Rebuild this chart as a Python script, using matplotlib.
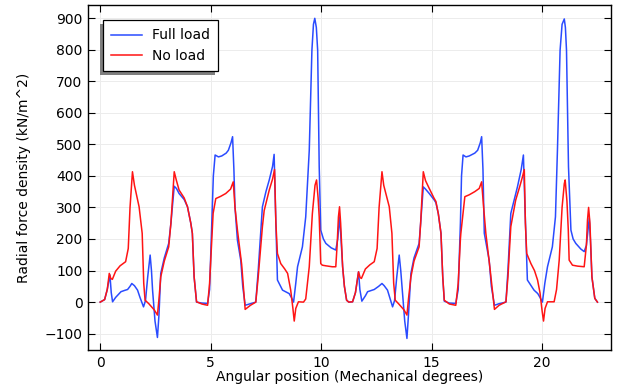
import matplotlib
matplotlib.use("Agg")
import matplotlib.pyplot as plt
from matplotlib.patches import Rectangle

# ---- Data ----
no_load_x = [0, 0.2, 0.32, 0.41, 0.48, 0.55, 0.7, 0.9, 1.15, 1.27, 1.35, 1.46, 1.55, 1.76, 1.9, 1.97, 2.03,
             2.2, 2.45, 2.59, 2.66, 2.74, 2.9, 3.1, 3.2, 3.35, 3.45, 3.57, 3.8, 3.95, 4.1, 4.17, 4.25, 4.36,
             4.6, 4.86, 4.95, 5.05, 5.11, 5.23, 5.45, 5.68, 5.9, 6.02, 6.1, 6.21, 6.4, 6.56, 6.8, 7.04, 7.15,
             7.34, 7.42, 7.65, 7.8, 7.89, 7.95, 8.02, 8.17, 8.35, 8.48, 8.62, 8.72, 8.78, 8.85, 8.97, 9.2, 9.3,
             9.46, 9.6, 9.72, 9.79, 9.86, 9.91, 9.98, 10.05, 10.21, 10.5, 10.66, 10.72, 10.78, 10.83, 10.88,
             10.97, 11.05, 11.15, 11.25, 11.42, 11.55, 11.69, 11.76, 11.82, 12.0, 12.2, 12.4, 12.53, 12.62,
             12.75, 12.83, 13.08, 13.2, 13.28, 13.35, 13.5, 13.75, 13.88, 13.95, 14.06, 14.2, 14.43, 14.5,
             14.62, 14.72, 14.89, 15.1, 15.19, 15.3, 15.42, 15.5, 15.57, 15.8, 16.09, 16.2, 16.3, 16.32, 16.5,
             16.7, 16.95, 17.15, 17.26, 17.35, 17.45, 17.63, 17.84, 18.05, 18.36, 18.45, 18.58, 18.8, 19.0,
             19.1, 19.19, 19.24, 19.3, 19.49, 19.65, 19.79, 19.9, 20.0, 20.06, 20.13, 20.24, 20.54, 20.65,
             20.77, 20.9, 21.0, 21.04, 21.12, 21.18, 21.22, 21.37, 21.6, 21.9, 22.0, 22.05, 22.1, 22.16,
             22.25, 22.38, 22.5]
no_load_y = [0, 8, 40, 91, 75, 72, 98, 115, 128, 170, 300, 413, 370, 302, 218, 60, 6,
             -5, -25, -41, 10, 80, 130, 175, 250, 413, 385, 355, 330, 302, 250, 218, 80, 1,
             -6, -10, 60, 200, 281, 328, 335, 344, 358, 381, 300, 228, 120, -23, -10, 0, 80,
             239, 290, 355, 390, 420, 250, 154, 122, 105, 91, 38, -20, -60, -20, 1, 0, 10,
             112, 280, 370, 387, 330, 270, 122, 117, 115, 112, 112, 180, 270, 302, 250,
             112, 50, 6, 0, 1, 30, 96, 78, 75, 105, 118, 128, 170, 300,
             413, 370, 302, 218, 60, 6, -5, -25, -41, 10, 80, 130, 175, 250,
             413, 385, 360, 330, 319, 280, 218, 80, 6, -6, -10, 60, 200, 218, 334,
             340, 350, 360, 381, 300, 218, 112, -23, -10, 1, 80, 239, 323, 370,
             395, 420, 250, 154, 122, 100, 70, 30, -30, -60, -20, 1, 1, 40,
             133, 300, 375, 387, 320, 230, 133, 117, 114, 112, 180, 260, 300, 250,
             80, 12, 0]

full_load_x = [0, 0.2, 0.32, 0.44, 0.5, 0.56, 0.7, 0.94, 1.1, 1.24, 1.35, 1.43, 1.55, 1.69, 1.8, 1.96,
               2.05, 2.15, 2.26, 2.32, 2.37, 2.48, 2.59, 2.66, 2.74, 2.9, 3.1, 3.2, 3.35, 3.45, 3.57, 3.8,
               3.95, 4.1, 4.17, 4.25, 4.36, 4.6, 4.86, 4.95, 5.05, 5.12, 5.2, 5.35, 5.5, 5.7, 5.8, 5.92,
               5.99, 6.05, 6.1, 6.21, 6.36, 6.45, 6.56, 6.8, 7.04, 7.15, 7.34, 7.5, 7.65, 7.8, 7.87, 7.93,
               8.02, 8.25, 8.55, 8.65, 8.75, 8.85, 8.93, 9.15, 9.3, 9.4, 9.46, 9.52, 9.58, 9.65, 9.71,
               9.78, 9.84, 9.88, 9.91, 9.98, 10.1, 10.21, 10.45, 10.66, 10.75, 10.83, 10.88, 10.97, 11.05,
               11.15, 11.25, 11.42, 11.55, 11.69, 11.75, 11.84, 12.0, 12.1, 12.4, 12.6, 12.75, 12.85,
               13.0, 13.1, 13.23, 13.32, 13.42, 13.53, 13.6, 13.68, 13.78, 13.88, 13.95, 14.06, 14.2,
               14.43, 14.5, 14.62, 14.72, 14.89, 15.1, 15.19, 15.3, 15.42, 15.5, 15.57, 15.8, 16.09,
               16.2, 16.3, 16.35, 16.42, 16.55, 16.7, 16.95, 17.08, 17.2, 17.26, 17.32, 17.38, 17.6,
               17.7, 17.84, 18.05, 18.36, 18.45, 18.58, 18.88, 19.05, 19.15, 19.22, 19.33, 19.63, 19.8,
               19.9, 20.01, 20.12, 20.24, 20.46, 20.6, 20.69, 20.75, 20.81, 20.9, 21.0, 21.05, 21.1,
               21.15, 21.19, 21.3, 21.4, 21.52, 21.75, 21.9, 22.0, 22.13, 22.18, 22.25, 22.38, 22.5]
full_load_y = [0, 8, 40, 86, 30, 1, 15, 33, 37, 40, 50, 59, 52, 38, 15, -15,
               5, 80, 149, 100, 38, -60, -112, -40, 91, 140, 186, 250, 367, 360, 344, 325,
               302, 250, 218, 80, 0, -3, -4, 40, 250, 400, 466, 460, 463, 472, 481, 505,
               524, 420, 300, 196, 133, 50, -10, -5, 0, 100, 302, 350, 387, 430, 468, 300,
               70, 38, 27, 15, 0, 60, 112, 175, 270, 400, 481, 640, 798, 880, 899,
               870, 798, 600, 429, 228, 200, 186, 172, 165, 200, 270, 220, 112, 50,
               6, 0, 1, 30, 96, 40, 3, 20, 33, 40, 50, 59, 52,
               38, 15, -15, 5, 80, 149, 100, 27, -60, -115, -40, 91, 140,
               186, 250, 365, 358, 344, 325, 315, 280, 218, 80, 3, -3, -4,
               40, 250, 400, 466, 460, 463, 472, 481, 505, 524, 420, 218, 133,
               50, -10, -5, 0, 100, 281, 365, 420, 466, 300, 70, 38, 27,
               15, 0, 60, 112, 175, 270, 481, 640, 798, 880, 897, 870, 798,
               600, 429, 228, 200, 186, 168, 160, 180, 266, 200, 80, 12, 0]

x_ticks = [0, 5, 10, 15, 20]
y_ticks = [-100, 0, 100, 200, 300, 400, 500, 600, 700, 800, 900]
series_labels = ["Full load", "No load"]

# ---- Figure ----
fig = plt.figure(figsize=(6.2, 3.89), dpi=100)
ax = fig.add_axes([0.142, 0.10, 0.843, 0.887])

ax.plot(full_load_x, full_load_y, color="#2a4bff", lw=1.1, label=series_labels[0],
        solid_joinstyle="round")
ax.plot(no_load_x, no_load_y, color="#ff1414", lw=1.1, label=series_labels[1],
        solid_joinstyle="round")

ax.set_xlim(-0.55, 23.1)
ax.set_ylim(-152, 941)
ax.set_xticks(x_ticks)
ax.set_yticks(y_ticks)
ax.tick_params(direction="in", length=5, width=0.8, top=True, right=True,
               labelsize=10, pad=4, color="black")
ax.grid(True, color="#ececec", lw=0.7)
ax.set_axisbelow(True)
for s in ax.spines.values():
    s.set_linewidth(1.0)
    s.set_color("black")

ax.set_xlabel("Angular position (Mechanical degrees)", fontsize=10, labelpad=0)
ax.set_ylabel("Radial force density (kN/m^2)", fontsize=10, labelpad=10)

leg = ax.legend(loc="upper left", bbox_to_anchor=(15 / 523, 1 - 15 / 345), borderaxespad=0,
                fancybox=False, shadow=False, framealpha=1, edgecolor="black", fontsize=10,
                handlelength=2.2, handletextpad=0.7, borderpad=0.6, labelspacing=0.45)
leg.get_frame().set_linewidth(0.9)
leg.set_zorder(6)

# gray drop shadow offset to the lower left, as in the reference
fig.canvas.draw()
bb = leg.get_frame().get_window_extent()
shadow = Rectangle((bb.x0 - 3, bb.y0 - 4), bb.width, bb.height, transform=None,
                   facecolor="#7f7f7f", edgecolor="none", zorder=5.5)
ax.add_artist(shadow)

fig.savefig("out.png", dpi=100)
